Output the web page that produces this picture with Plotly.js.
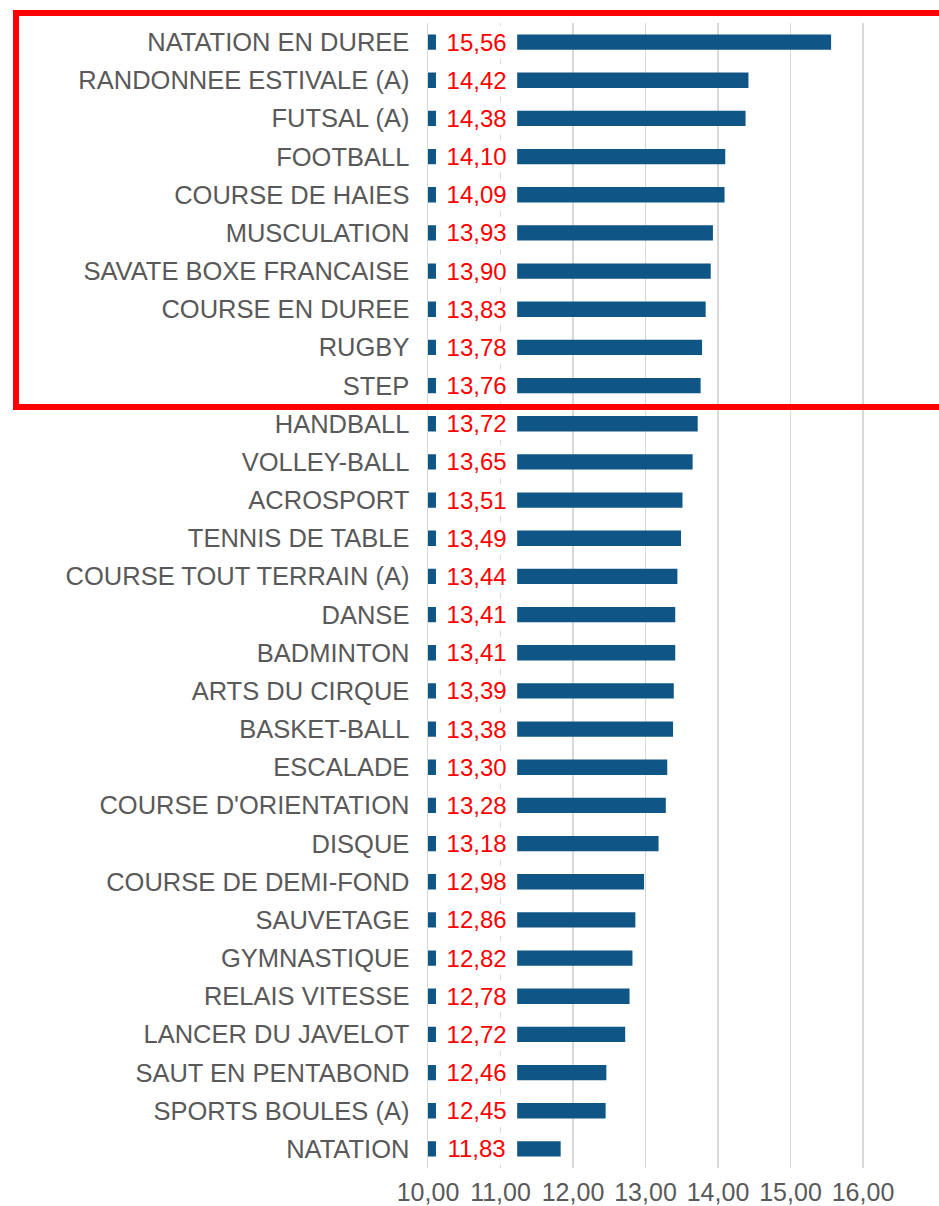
<!DOCTYPE html>
<html>
<head>
<meta charset="utf-8">
<script src="https://cdn.plot.ly/plotly-3.0.1.min.js"></script>
<style>html,body{margin:0;padding:0;background:#fff;}#chart{width:939px;height:1206px;}</style>
</head>
<body>
<div id="chart"></div>
<script>
const categories = [
  "NATATION EN DUREE","RANDONNEE ESTIVALE (A)","FUTSAL (A)","FOOTBALL","COURSE DE HAIES",
  "MUSCULATION","SAVATE BOXE FRANCAISE","COURSE EN DUREE","RUGBY","STEP",
  "HANDBALL","VOLLEY-BALL","ACROSPORT","TENNIS DE TABLE","COURSE TOUT TERRAIN (A)",
  "DANSE","BADMINTON","ARTS DU CIRQUE","BASKET-BALL","ESCALADE",
  "COURSE D'ORIENTATION","DISQUE","COURSE DE DEMI-FOND","SAUVETAGE","GYMNASTIQUE",
  "RELAIS VITESSE","LANCER DU JAVELOT","SAUT EN PENTABOND","SPORTS BOULES (A)","NATATION"
];
const values = [
  15.56,14.42,14.38,14.10,14.09,
  13.93,13.90,13.83,13.78,13.76,
  13.72,13.65,13.51,13.49,13.44,
  13.41,13.41,13.39,13.38,13.30,
  13.28,13.18,12.98,12.86,12.82,
  12.78,12.72,12.46,12.45,11.83
];
const tickValues = [10,11,12,13,14,15,16];
const baseValue = 10;

const fmt = v => v.toFixed(2).replace('.', ',');
const FONT = '"Liberation Sans", Arial, Helvetica, sans-serif';

const bars = {
  type: 'bar', orientation: 'h',
  y: categories,
  x: values.map(v => v - baseValue),
  base: baseValue,
  width: 0.4,
  marker: {color: '#0f5686', line: {width: 0}},
  hoverinfo: 'skip'
};

// white label box (covering the bar start) holding the red value label
const labelBoxes = {
  type: 'bar', orientation: 'h',
  y: categories,
  x: categories.map(() => 1.12),
  base: baseValue + 0.11,
  width: 0.84,
  marker: {color: '#ffffff', line: {width: 0}},
  text: values.map(fmt),
  textposition: 'inside',
  insidetextanchor: 'middle',
  constraintext: 'none',
  textangle: 0,
  insidetextfont: {family: FONT, size: 24, color: '#ff0000'},
  hoverinfo: 'skip'
};

const layout = {
  width: 939, height: 1206,
  margin: {l: 428, r: 0, t: 23, b: 38, pad: 0, autoexpand: false},
  paper_bgcolor: '#ffffff',
  plot_bgcolor: '#ffffff',
  separators: ', ',
  showlegend: false,
  barmode: 'overlay',
  xaxis: {
    range: [10, 10 + 511/72.5],
    tickvals: tickValues,
    tickformat: '.2f',
    showgrid: true,
    gridcolor: '#d9d9d9',
    gridwidth: 1.5,
    zeroline: false,
    showline: false,
    ticks: 'outside',
    ticklen: 2,
    tickcolor: 'rgba(0,0,0,0)',
    tickfont: {family: FONT, size: 25, color: '#595959'},
    fixedrange: true
  },
  yaxis: {
    type: 'category',
    range: [categories.length - 0.5, -0.5],
    autorange: false,
    showgrid: false,
    zeroline: false,
    showline: true,
    linecolor: '#d9d9d9',
    linewidth: 1.5,
    ticks: 'outside',
    ticklen: 12,
    tickcolor: 'rgba(0,0,0,0)',
    tickfont: {family: FONT, size: 25.5, color: '#595959'},
    fixedrange: true
  },
  shapes: [{
    type: 'rect',
    xref: 'paper', yref: 'paper',
    x0: (16 - 428) / 511, x1: 1.05,
    y0: (1168 - 407) / 1145, y1: (1168 - 13) / 1145,
    line: {color: '#ff0000', width: 6},
    fillcolor: 'rgba(0,0,0,0)',
    layer: 'above'
  }]
};

Plotly.newPlot('chart', [bars, labelBoxes], layout, {displayModeBar: false, staticPlot: true});
</script>
</body>
</html>
